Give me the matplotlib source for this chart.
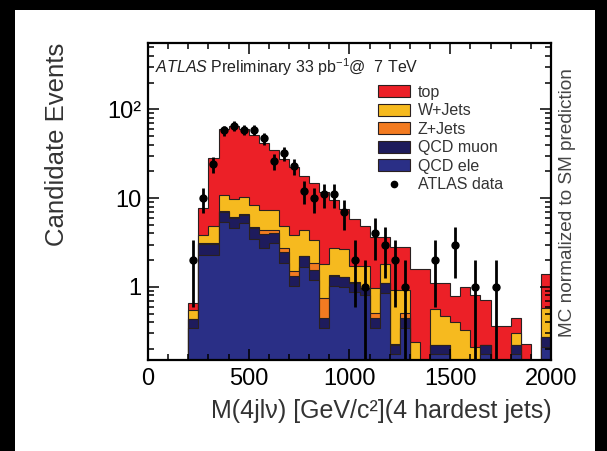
import numpy as np
import matplotlib
matplotlib.use("Agg")
import matplotlib.pyplot as plt
from matplotlib.patches import Rectangle, Patch
from matplotlib.lines import Line2D
from matplotlib.ticker import MultipleLocator, LogLocator, FuncFormatter, NullFormatter

plt.rcParams['font.family'] = ['Liberation Sans', 'DejaVu Sans']
plt.rcParams['mathtext.fontset'] = 'custom'
plt.rcParams['mathtext.rm'] = 'Liberation Sans'
plt.rcParams['mathtext.it'] = 'Liberation Sans:italic'

# 50 GeV bins from 200 to 2000 GeV
edges = np.arange(200, 2001, 50)

# MC contributions per bin (events), normalized to SM prediction
qcd_ele = [0.34, 2.3, 2.3, 5.4, 4.6, 5.3, 3.5, 2.75, 3.1, 1.86, 1.03, 1.68,
           1.21, 0.345, 1.03, 1.0, 0.88, 0.82, 0.345, 0.86, 0.173, 0.345, 0, 0,
           0.173, 0.173, 0, 0, 0, 0.173, 0, 0, 0.173, 0, 0, 0.21]
qcd_muon = [0.10, 0.75, 0.75, 1.6, 1.3, 1.2, 1.1, 1.15, 0.9, 0.6, 0.29, 0.54,
            0.33, 0.10, 0.29, 0.28, 0.24, 0.13, 0.10, 0.25, 0.051, 0.10, 0, 0,
            0.051, 0.051, 0, 0, 0, 0.051, 0, 0, 0.051, 0, 0, 0.06]
z_jets = [0, 0.05, 0.1, 0.1, 0.2, 0.1, 0.1, 0.45, 0.4, 0.29, 0.18, 0.03,
          0.32, 0.30, 0.03, 0.02, 0.02, 0.02, 0.06, 0.01, 0.001, 0.06, 0, 0,
          0, 0, 0, 0, 0, 0, 0, 0, 0, 0, 0, 0]
w_jets = [0.11, 0.7, 1.65, 3.8, 3.7, 3.8, 3.7, 2.95, 3.0, 2.05, 2.3, 2.1,
          1.49, 1.08, 1.4, 1.38, 0.56, 0.73, 0.46, 0.67, 0.705, 0.42, 0.24, 0.1,
          0.336, 0.246, 0.4, 0.33, 0.21, 0, 0, 0, 0.076, 0, 0, 0.31]
top = [0.11, 4.0, 23.7, 48.6, 55.2, 49.6, 43.6, 34.7, 27.6, 22.5, 18.8, 13.35,
       11.55, 9.87, 6.75, 4.77, 4.15, 3.2, 2.69, 1.87, 1.87, 1.87, 1.33, 1.47,
       0.55, 0.64, 0.385, 0.67, 0.59, 0.496, 0.36, 0.36, 0.15, 0.23, 0, 0.8]

# observed events per bin
data = [2, 10, 24, 58, 65, 59, 59, 47, 26, 32, 23, 12, 10, 11, 11, 7, 2, 1,
        4, 3, 2, 1, 0, 0, 2, 0, 3, 0, 1, 0, 1, 0, 0, 0, 0, 0]

names = ['QCD ele', 'QCD muon', 'Z+Jets', 'W+Jets', 'top']
colors = ['#2a2f86', '#1e1b5c', '#f37b21', '#f6ba1f', '#ec2027']
stack = np.cumsum([qcd_ele, qcd_muon, z_jets, w_jets, top], axis=0)

fig = plt.figure(figsize=(6.07, 4.51), dpi=100)
fig.patch.set_facecolor('black')
fig.patches.append(Rectangle((15 / 607, 0), 580 / 607, 441 / 451,
                             transform=fig.transFigure, facecolor='white',
                             edgecolor='none', zorder=-1))

ax = fig.add_axes([0.2438, 0.2018, 0.6639, 0.7029])
ax.set_yscale('log')

# draw the stack from the top layer down so lower layers cover it
for i in range(len(names) - 1, -1, -1):
    ax.stairs(np.maximum(stack[i], 1e-3), edges, baseline=1e-3, fill=True,
              facecolor=colors[i], edgecolor='#2a2020', linewidth=0.8)

data = np.array(data, dtype=float)
centers = edges[:-1] + 25
sel = data > 0
n = data[sel]
err_lo = n - np.maximum(n - np.sqrt(n), 1e-3)
err_hi = np.sqrt(n)
ax.errorbar(centers[sel], n, yerr=[err_lo, err_hi], fmt='o', color='black',
            markersize=5, elinewidth=2, capsize=0, zorder=5)

ax.set_xlim(0, 2000)
ax.set_ylim(0.15, 560)
ax.xaxis.set_major_locator(MultipleLocator(500))
ax.xaxis.set_minor_locator(MultipleLocator(100))
ax.yaxis.set_major_locator(LogLocator(base=10))
ax.yaxis.set_minor_locator(LogLocator(base=10, subs=np.arange(2, 10)))
ax.yaxis.set_minor_formatter(NullFormatter())
ax.yaxis.set_major_formatter(FuncFormatter(
    lambda v, p: {1: '1', 10: '10', 100: '10²'}.get(int(round(v)), '')))
ax.tick_params(which='both', direction='in', top=True, right=True,
               labelsize=17, colors='black', width=1.1)
ax.tick_params(which='major', length=8, pad=5)
ax.tick_params(which='minor', length=4.5)
ax.tick_params(axis='x', pad=6)
for s in ax.spines.values():
    s.set_linewidth(1.6)

ax.text(0.018, 0.925,
        r'$\it{ATLAS}$ Preliminary 33 pb$^{-1}$@  7 TeV',
        transform=ax.transAxes, fontsize=11.5, color='#222222', va='center')

handles = [Patch(facecolor=colors[i], edgecolor='#2a2020', linewidth=0.8)
           for i in range(len(names) - 1, -1, -1)]
handles.append(Line2D([], [], marker='o', color='black', linestyle='none',
                      markersize=4.5))
labels = names[::-1] + ['ATLAS data']
ax.legend(handles, labels, loc='upper left', bbox_to_anchor=(0.57, 0.868),
          frameon=False, fontsize=11.5, handlelength=2.05, handleheight=0.8,
          labelspacing=0.22, handletextpad=0.45, borderaxespad=0,
          borderpad=0, labelcolor='#333333')

fig.text(552 / 607, 1 - 411 / 451, 'M(4jlν) [GeV/c²](4 hardest jets)',
         ha='right', va='center', fontsize=18, color='#333333')
fig.text(57 / 607, 1 - 43 / 451, 'Candidate Events', rotation=90,
         ha='center', va='top', fontsize=18.5, color='#333333')
fig.text(567 / 607, 1 - 337 / 451, 'MC normalized to SM prediction',
         rotation=90, ha='center', va='bottom', fontsize=13.7, color='#444444')

fig.savefig('out.png', dpi=100)
